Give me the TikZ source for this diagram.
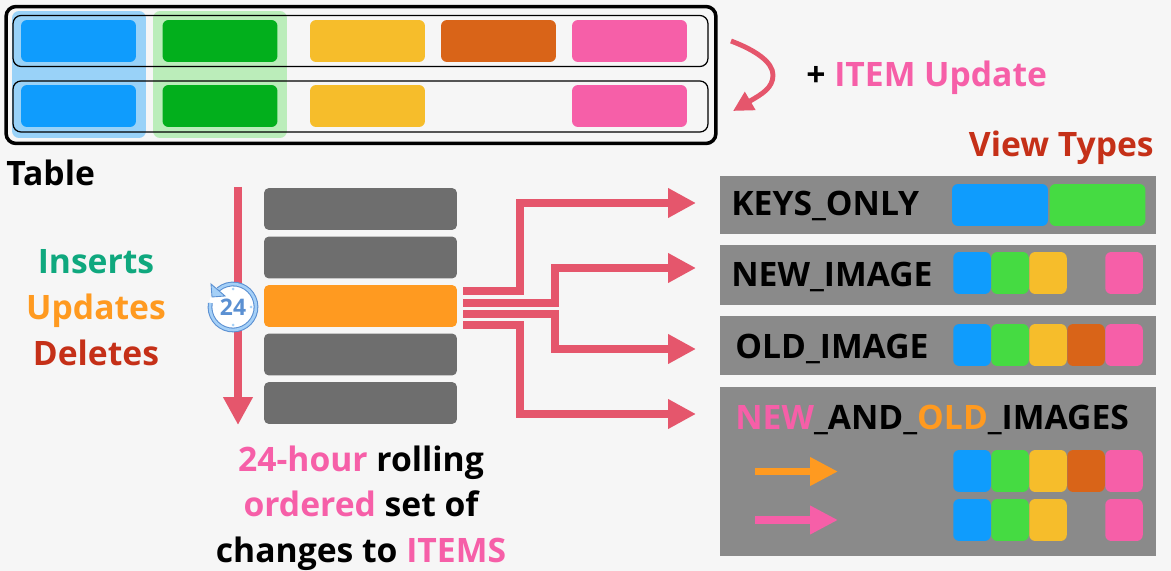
\documentclass[tikz,border=0pt]{standalone}
\usepackage{fontspec}
\setmainfont{Open Sans}[BoldFont={* Bold}]
\usetikzlibrary{arrows.meta}
\definecolor{pageback}{HTML}{F6F6F6}
\definecolor{cblue}{HTML}{0F9CFD}
\definecolor{cdarkgreen}{HTML}{02AF1C}
\definecolor{cgreen}{HTML}{45DB42}
\definecolor{cyellow}{HTML}{F6BD2B}
\definecolor{cbrown}{HTML}{D96418}
\definecolor{cpink}{HTML}{F65FA8}
\definecolor{corange}{HTML}{FF9A20}
\definecolor{cred}{HTML}{E5566C}
\definecolor{cdarkgray}{HTML}{6E6E6E}
\definecolor{cpanel}{HTML}{8A8A8A}
\definecolor{cteal}{HTML}{0FA87E}
\definecolor{cbrick}{HTML}{C53018}
\definecolor{cclock}{HTML}{5B90D2}
\definecolor{cclocklight}{HTML}{A5D0F7}
\tikzset{
  tablecell/.style={fill=#1,rounded corners=0.12cm,minimum width=2.3cm,minimum height=0.84cm,inner sep=0pt},
  wideswatch/.style={fill=#1,rounded corners=0.12cm,minimum width=1.92cm,minimum height=0.84cm,inner sep=0pt},
  swatch/.style={fill=#1,rounded corners=0.12cm,minimum width=0.75cm,minimum height=0.84cm,inner sep=0pt},
  stackbar/.style={fill=#1,rounded corners=0.1cm,minimum width=3.86cm,minimum height=0.84cm,inner sep=0pt},
  rowbox/.style={draw=black,line width=0.7pt,rounded corners=0.16cm,minimum width=13.9cm,minimum height=1.02cm,inner sep=0pt},
  columnband/.style={fill=#1,rounded corners=0.14cm,minimum width=2.68cm,minimum height=2.54cm,inner sep=0pt},
  viewpanel/.style={fill=cpanel,minimum width=8.72cm,minimum height=#1,inner sep=0pt},
  label/.style={font=\bfseries\fontsize{19.15}{19.15}\selectfont,inner sep=0pt},
  flow/.style={draw=cred,line width=4.2pt,-{Triangle[length=0.56cm,width=0.56cm]}},
  legendarrow/.style={draw=#1,line width=4.3pt,-{Triangle[length=0.56cm,width=0.54cm]}},
  clockdot/.style={fill=cclocklight,minimum size=0.06cm,circle,inner sep=0pt},
}
\begin{document}
\begin{tikzpicture}[x=0.02cm,y=-0.02cm]
    \useasboundingbox (0,0) rectangle (1171,571);
    \fill[pageback] (0,0) rectangle (1171,571);

    % Table with two items
    \node[columnband=cblue,fill opacity=0.4] (bandblue) at (79,74.5) {};
    \node[columnband=cgreen,fill opacity=0.33] (bandgreen) at (220,74.5) {};
    \node[tablecell=cblue] (cella) at (78.5,41) {};
    \node[tablecell=cdarkgreen] (cellb) at (220,41) {};
    \node[tablecell=cyellow] (cellc) at (367.5,41) {};
    \node[tablecell=cbrown] (celld) at (498.5,41) {};
    \node[tablecell=cpink] (celle) at (629.5,41) {};
    \node[tablecell=cblue] (cellf) at (78.5,106) {};
    \node[tablecell=cdarkgreen] (cellg) at (220,106) {};
    \node[tablecell=cyellow] (cellh) at (367.5,106) {};
    \node[tablecell=cpink] (celli) at (629.5,106) {};
    \node[rowbox] (rowone) at (360.5,41) {};
    \node[rowbox] (rowtwo) at (360.5,106.5) {};
    \node[draw=black,line width=2pt,rounded corners=0.2cm,minimum width=14.2cm,minimum height=2.74cm,inner sep=0pt] (tablebox) at (361,75) {};
    \node[label,anchor=base west] (tablelabel) at (6,186) {Table};

    % Update of an item
    \coordinate (bendstart) at (731,41);
    \coordinate (bendmid) at (773,75);
    \coordinate (bendend) at (733,111);
    \draw[draw=cred,line width=2.8pt,-{Triangle[length=0.4cm,width=0.4cm]}] (bendstart) .. controls (755,50) and (773,62) .. (bendmid) .. controls (773,88) and (762,94) .. (bendend);
    \node[label,anchor=base west] (updatelabel) at (806,87) {+ \textcolor{cpink}{ITEM Update}};
    \node[label,anchor=base east,text=cbrick] (viewlabel) at (1154,157) {View Types};

    % Change kinds
    \node[label,anchor=base,text=cteal] (inserts) at (96,274) {Inserts};
    \node[label,anchor=base,text=corange] (updates) at (96,319) {Updates};
    \node[label,anchor=base,text=cbrick] (deletes) at (96,365) {Deletes};

    % Stream of changes
    \node[stackbar=cdarkgray] (bara) at (360.5,209) {};
    \node[stackbar=cdarkgray] (barb) at (360.5,257.5) {};
    \node[stackbar=corange] (barc) at (360.5,306) {};
    \node[stackbar=cdarkgray] (bard) at (360.5,354.5) {};
    \node[stackbar=cdarkgray] (bare) at (360.5,403) {};
    \coordinate (timestart) at (238,187);
    \coordinate (timeend) at (238,425);
    \draw[draw=cred,line width=4pt,-{Triangle[length=0.56cm,width=0.56cm]}] (timestart) -- (timeend);

    % Retention clock
    \node[circle,fill=white,minimum size=0.98cm,inner sep=0pt,text=cclock,font=\bfseries\fontsize{13}{13}\selectfont] (clock) at (233,307) {24};
    \draw[cclock,line width=2.7pt] (clock.center) ++(170:0.46cm) arc[start angle=170,end angle=490,radius=0.46cm];
    \draw[cclocklight,line width=1.5pt] (clock.center) ++(170:0.46cm) arc[start angle=170,end angle=490,radius=0.46cm];
    \node[clockdot] (dotn) at (233,289) {};
    \node[clockdot] (dots) at (233,325) {};
    \node[clockdot] (dote) at (251,307) {};
    \fill[cclocklight,draw=cclock,line width=0.5pt] (211,284) -- (212,297) -- (225,296) -- cycle;

    % View panels
    \node[viewpanel=1.16cm] (viewkeys) at (938,205) {};
    \node[viewpanel=1.2cm] (viewnew) at (938,275) {};
    \node[viewpanel=1.18cm] (viewold) at (938,345.5) {};
    \node[viewpanel=3.38cm] (viewboth) at (938,471.5) {};

    \node[label,anchor=base west] (keystext) at (731,215) {KEYS\_ONLY};
    \node[wideswatch=cblue] (keysa) at (1000,205) {};
    \node[wideswatch=cgreen] (keysb) at (1097.5,205) {};

    \node[label,anchor=base west] (newtext) at (731,286) {NEW\_IMAGE};
    \node[swatch=cblue] (newa) at (972,273) {};
    \node[swatch=cgreen] (newb) at (1010,273) {};
    \node[swatch=cyellow] (newc) at (1048,273) {};
    \node[swatch=cpink] (newd) at (1124,273) {};

    \node[label,anchor=base west] (oldtext) at (735,358) {OLD\_IMAGE};
    \node[swatch=cblue] (olda) at (972,345) {};
    \node[swatch=cgreen] (oldb) at (1010,345) {};
    \node[swatch=cyellow] (oldc) at (1048,345) {};
    \node[swatch=cbrown] (oldd) at (1086,345) {};
    \node[swatch=cpink] (olde) at (1124,345) {};

    \node[label,anchor=base west] (bothtext) at (735,429) {\textcolor{cpink}{NEW}\_AND\_\textcolor{corange}{OLD}\_IMAGES};
    \node[swatch=cblue] (botha) at (972,471) {};
    \node[swatch=cgreen] (bothb) at (1010,471) {};
    \node[swatch=cyellow] (bothc) at (1048,471) {};
    \node[swatch=cbrown] (bothd) at (1086,471) {};
    \node[swatch=cpink] (bothe) at (1124,471) {};
    \node[swatch=cblue] (bothf) at (972,520) {};
    \node[swatch=cgreen] (bothg) at (1010,520) {};
    \node[swatch=cyellow] (bothh) at (1048,520) {};
    \node[swatch=cpink] (bothi) at (1124,520) {};

    \coordinate (oldfrom) at (755,471.5);
    \coordinate (oldto) at (838,471.5);
    \coordinate (newfrom) at (755,520);
    \coordinate (newto) at (838,520);
    \draw[legendarrow=corange] (oldfrom) -- (oldto);
    \draw[legendarrow=cpink] (newfrom) -- (newto);

    % Arrows from the changed item to the views
    \coordinate (outa) at (463,291);
    \coordinate (outb) at (463,303);
    \coordinate (outc) at (463,314);
    \coordinate (outd) at (463,325);
    \coordinate (toa) at (696,203);
    \coordinate (tob) at (696,268);
    \coordinate (toc) at (696,349);
    \coordinate (tod) at (696,414);
    \draw[flow] (outa) -| (520,203) -- (toa);
    \draw[flow] (outb) -| (555,268) -- (tob);
    \draw[flow] (outc) -| (555,349) -- (toc);
    \draw[flow] (outd) -| (520,414) -- (tod);

    % Caption
    \node[label,anchor=base] (captiona) at (361,471) {\textcolor{cpink}{24-hour} rolling};
    \node[label,anchor=base] (captionb) at (361,516) {\textcolor{cpink}{ordered} set of};
    \node[label,anchor=base] (captionc) at (361,562) {changes to \textcolor{cpink}{ITEMS}};
\end{tikzpicture}
\end{document}
